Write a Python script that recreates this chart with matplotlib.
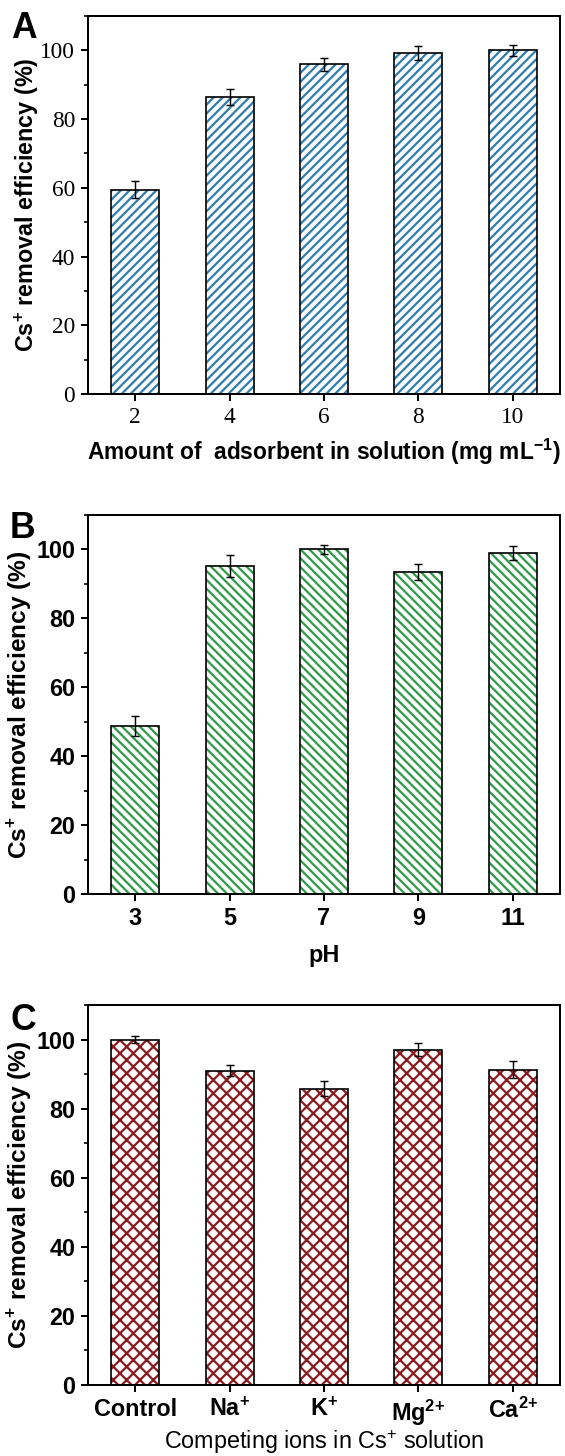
import numpy as np
import matplotlib
matplotlib.use("Agg")
from matplotlib import pyplot as plt
from matplotlib.ticker import MultipleLocator

plt.rcParams['font.family'] = 'Liberation Sans'
plt.rcParams['mathtext.fontset'] = 'custom'
plt.rcParams['mathtext.rm'] = 'Liberation Sans'
plt.rcParams['mathtext.bf'] = 'Liberation Sans:bold'
plt.rcParams['hatch.linewidth'] = 2.0

# Data
dose_labels = ['2', '4', '6', '8', '10']
dose_eff = [59.5, 86.5, 96.0, 99.2, 100.0]
dose_err = [2.5, 2.3, 1.9, 2.0, 1.7]

ph_labels = ['3', '5', '7', '9', '11']
ph_eff = [48.8, 95.2, 100.0, 93.4, 98.9]
ph_err = [2.8, 3.2, 1.2, 2.4, 2.0]

ion_labels = ['Control', 'Na$^{\\mathbf{+}}$', 'K$^{\\mathbf{+}}$',
              'Mg$^{\\mathbf{2{+}}}$', 'Ca$^{\\mathbf{2{+}}}$']
ion_eff = [100.0, 91.0, 85.8, 97.0, 91.3]
ion_err = [1.0, 1.6, 2.1, 1.9, 2.5]

ylab = 'Cs$^{\\mathbf{+}}$ removal efficiency (%)'

W, H = 565, 1456
dpi = 80
fig = plt.figure(figsize=(W / dpi, H / dpi), dpi=dpi)


def panel(top_px, bot_px, labels, vals, errs, color, hatch):
    ax = fig.add_axes([88 / W, 1 - bot_px / H, 472 / W, (bot_px - top_px) / H])
    x = np.arange(len(vals))
    ax.bar(x, vals, width=0.51, color='white', edgecolor=color, hatch=hatch,
           linewidth=0, zorder=2)
    ax.bar(x, vals, width=0.51, fill=False, edgecolor='black', linewidth=1.5,
           zorder=3)
    ax.errorbar(x, vals, yerr=errs, fmt='none', ecolor='black', elinewidth=1.3,
                capsize=3.6, capthick=1.3, zorder=4)
    ax.set_xlim(-0.5, 4.5)
    ax.set_ylim(0, 110)
    ax.set_xticks(x)
    ax.set_xticklabels(labels)
    ax.yaxis.set_major_locator(MultipleLocator(20))
    ax.yaxis.set_minor_locator(MultipleLocator(10))
    for s in ax.spines.values():
        s.set_linewidth(1.8)
    ax.tick_params(which='major', direction='out', length=6.5, width=1.8)
    ax.tick_params(which='minor', direction='out', length=3.5, width=1.5)
    return ax


# A
axA = panel(16, 394, dose_labels, dose_eff, dose_err, '#2e7bb0', '///')
for t in axA.get_xticklabels() + axA.get_yticklabels():
    t.set_fontfamily('Liberation Serif')
    t.set_fontsize(21)
axA.tick_params(axis='both', pad=5)
axA.set_ylabel(ylab, fontsize=21, fontweight='bold')
axA.yaxis.set_label_coords(-0.1, 0.5)
axA.set_xlabel('Amount of  adsorbent in solution (mg mL$^{\\mathbf{-1}}$)',
               fontsize=20.5, fontweight='bold', labelpad=8)
fig.text(11 / W, 1 - 29 / H, 'A', fontsize=32, fontweight='heavy', va='center')

# B
axB = panel(515, 894, ph_labels, ph_eff, ph_err, '#2e9a48', '\\\\\\')
for t in axB.get_xticklabels() + axB.get_yticklabels():
    t.set_fontsize(21)
    t.set_fontweight('bold')
axB.tick_params(axis='both', pad=5)
axB.set_ylabel(ylab, fontsize=22, fontweight='bold')
axB.yaxis.set_label_coords(-0.114, 0.5)
axB.set_xlabel('pH', fontsize=21, fontweight='bold', labelpad=13)
fig.text(10 / W, 1 - 528 / H, 'B', fontsize=32, fontweight='heavy', va='center')

# C
axC = panel(1005, 1385, ion_labels, ion_eff, ion_err, '#8b1a1f', 'xx')
for t in axC.get_xticklabels() + axC.get_yticklabels():
    t.set_fontsize(21)
    t.set_fontweight('bold')
axC.tick_params(axis='both', pad=5)
axC.set_ylabel(ylab, fontsize=22, fontweight='bold')
axC.yaxis.set_label_coords(-0.114, 0.5)
axC.set_xlabel('Competing ions in Cs$^{+}$ solution', fontsize=21,
               labelpad=0)
fig.text(10 / W, 1 - 1020 / H, 'C', fontsize=32, fontweight='heavy', va='center')

fig.savefig('out.png', dpi=dpi)
